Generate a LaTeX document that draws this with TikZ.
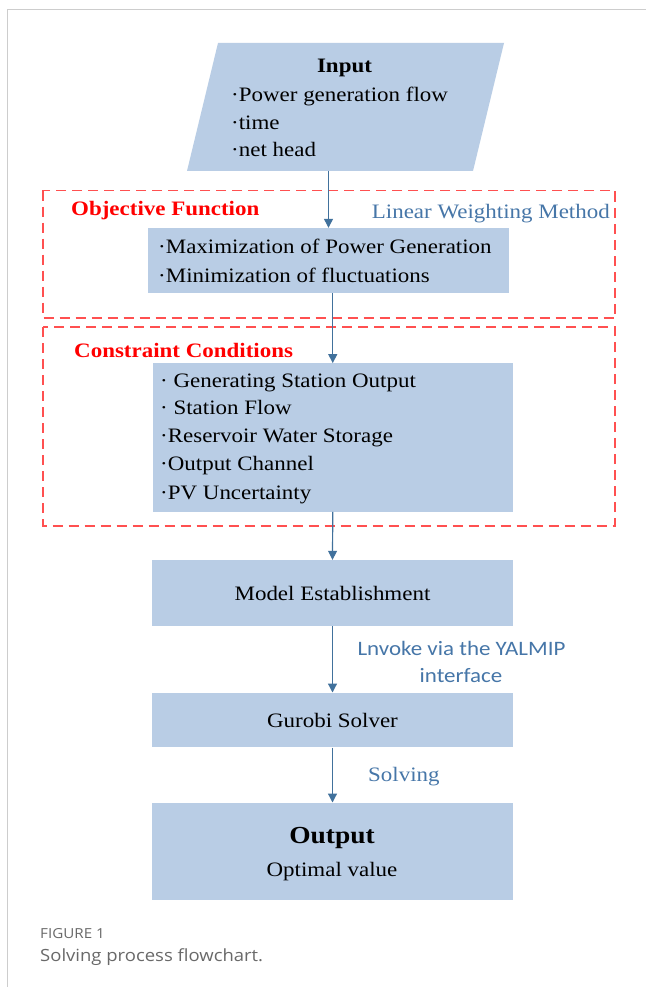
\documentclass[tikz,border=0pt]{standalone}
\usepackage{fontspec}
\usetikzlibrary{arrows.meta}
\newfontfamily\dser[FakeStretch=1.12]{Liberation Serif}
\newfontfamily\dsans[FakeStretch=1.12]{Carlito}
\newfontfamily\capf[FakeStretch=1.1]{Open Sans}
\definecolor{boxblue}{RGB}{185,205,229}
\definecolor{arrblue}{RGB}{65,113,156}
\definecolor{lblblue}{RGB}{70,118,168}
\definecolor{dashred}{RGB}{255,80,80}
\definecolor{capgray}{RGB}{105,105,105}
\definecolor{framegray}{RGB}{205,205,205}
\begin{document}
\begin{tikzpicture}[x=1pt,y=-1pt,
  box/.style={fill=boxblue, draw=none, inner sep=0},
  frm/.style={draw=dashred, line width=1.8pt, dash pattern=on 10pt off 6pt},
  txt/.style={inner sep=0, text=black, font=\dser\fontsize{20.5}{28}\selectfont},
  btxt/.style={inner sep=0, text=black, font=\dser\bfseries\fontsize{20.5}{28}\selectfont},
  rtxt/.style={inner sep=0, text=red, font=\dser\bfseries\fontsize{20.5}{28}\selectfont},
  ltxt/.style={inner sep=0, text=lblblue, font=\dser\fontsize{20.5}{28}\selectfont},
  stxt/.style={inner sep=0, text=lblblue, font=\dsans\fontsize{20.5}{28}\selectfont},
  arr/.style={draw=arrblue, line width=1.2pt, -{Triangle[width=9pt,length=9pt]}}
]
\useasboundingbox (0,0) rectangle (646,987);
\fill[white] (0,0) rectangle (646,987);
% card frame
\draw[framegray, line width=1.5pt] (7.5,987) -- (7.5,9.5) -- (646,9.5);

% dashed frames
\coordinate (objfA) at (43,190.5);
\coordinate (objfB) at (615,318);
\coordinate (consfA) at (43,327.3);
\coordinate (consfB) at (615,525.7);
\draw[frm] (objfA) rectangle (objfB);
\draw[frm] (consfA) rectangle (consfB);

% input parallelogram
\fill[boxblue] (218,43) -- (504,43) -- (473,171) -- (187,171) -- cycle;
\coordinate (inp) at (328.5,171);
\node[btxt, anchor=base] (inT) at (344.5,73) {Input};
\node[txt, anchor=base west] (in1) at (231,102) {·Power generation flow};
\node[txt, anchor=base west] (in2) at (231,129.5) {·time};
\node[txt, anchor=base west] (in3) at (231,157) {·net head};

% objective
\node[rtxt, anchor=base west] (objT) at (71,215) {Objective Function};
\node[ltxt, anchor=base east] (lwm) at (610,218) {Linear Weighting Method};
\node[box, minimum width=361pt, minimum height=65pt] (obj) at (328.5,260.5) {};
\node[txt, anchor=base west] (ob1) at (158,253) {·Maximization of Power Generation};
\node[txt, anchor=base west] (ob2) at (158,282) {·Minimization of fluctuations};

% constraints
\node[rtxt, anchor=base west] (consT) at (74,357) {Constraint Conditions};
\node[box, minimum width=360.5pt, minimum height=148.4pt] (cons) at (332.75,437.5) {};
\node[txt, anchor=base west] (c1) at (160,387) {· Generating Station Output};
\node[txt, anchor=base west] (c2) at (160,414.5) {· Station Flow};
\node[txt, anchor=base west] (c3) at (160,442.5) {·Reservoir Water Storage};
\node[txt, anchor=base west] (c4) at (160,470.7) {·Output Channel};
\node[txt, anchor=base west] (c5) at (160,499) {·PV Uncertainty};

% model
\node[box, minimum width=361pt, minimum height=66pt] (model) at (332.5,593) {};
\node[txt, anchor=base] (mT) at (332.5,600) {Model Establishment};

% gurobi
\node[box, minimum width=361pt, minimum height=54.6pt] (gur) at (332.5,720) {};
\node[txt, anchor=base] (gT) at (332.5,727) {Gurobi Solver};
\node[stxt, anchor=base] (yal1) at (461.5,655) {Lnvoke via the YALMIP};
\node[stxt, anchor=base] (yal2) at (461,682) {interface};

% output
\node[box, minimum width=361pt, minimum height=97.3pt] (out) at (332.5,851.35) {};
\node[inner sep=0, anchor=base, font=\dser\bfseries\fontsize{24.5}{30}\selectfont] (oT) at (332,843) {Output};
\node[txt, anchor=base] (oV) at (332,876) {Optimal value};
\node[ltxt, anchor=base west] (solv) at (368,781.5) {Solving};

% connectors
\draw[arr] (inp) -- (obj.north);
\draw[arr] (obj.south -| cons.north) -- (cons.north);
\draw[arr] (cons.south) -- (model.north);
\draw[arr] (model.south) -- (gur.north);
\draw[arr] (gur.south) -- (out.north);

% caption
\node[inner sep=0, anchor=base west, text=capgray, font=\capf\fontsize{13.8}{16}\selectfont] (fig) at (40,938) {FIGURE 1};
\node[inner sep=0, anchor=base west, text=capgray, font=\capf\fontsize{16.8}{20}\selectfont] (cap) at (40,961) {Solving process flowchart.};
\end{tikzpicture}
\end{document}
